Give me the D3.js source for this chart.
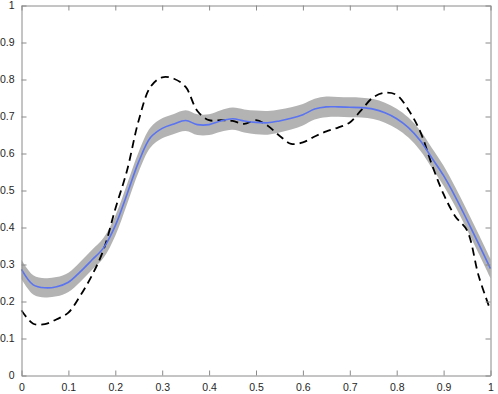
<!DOCTYPE html>
<html>
<head>
<meta charset="utf-8">
<script src="https://cdn.jsdelivr.net/npm/d3@7"></script>
<style>
  body { margin: 0; background: #fff; }
  svg { display: block; }
  .tick text { font-family: "Liberation Sans", Arial, sans-serif; font-size: 10.5px; fill: #262626; }
</style>
</head>
<body>
<svg></svg>
<script>
let xs = [0, 0.025, 0.05, 0.075, 0.1, 0.125, 0.15, 0.175, 0.2, 0.225, 0.25, 0.275, 0.3, 0.325, 0.35, 0.375, 0.4, 0.425, 0.45, 0.475, 0.5,
          0.525, 0.55, 0.575, 0.6, 0.625, 0.65, 0.675, 0.7, 0.725, 0.75, 0.775, 0.8, 0.825, 0.85, 0.875, 0.9, 0.925, 0.95, 0.975, 1];

let meanVals = [0.287, 0.245, 0.237, 0.240, 0.252, 0.280, 0.312, 0.345, 0.405, 0.490, 0.578, 0.643, 0.668, 0.680, 0.689, 0.678, 0.678, 0.688, 0.694, 0.688, 0.684,
                0.683, 0.688, 0.695, 0.705, 0.720, 0.726, 0.726, 0.725, 0.724, 0.720, 0.710, 0.694, 0.670, 0.635, 0.588, 0.540, 0.483, 0.420, 0.355, 0.289];

let bandHalf = [0.026, 0.026, 0.026, 0.026, 0.026, 0.027, 0.027, 0.027, 0.027, 0.027, 0.027, 0.027, 0.027, 0.027, 0.028, 0.028, 0.028, 0.029, 0.030, 0.031, 0.032,
                0.032, 0.031, 0.030, 0.029, 0.028, 0.028, 0.027, 0.027, 0.027, 0.027, 0.027, 0.027, 0.027, 0.027, 0.027, 0.027, 0.026, 0.026, 0.026, 0.026];

let refVals = [0.176, 0.140, 0.139, 0.152, 0.170, 0.215, 0.270, 0.340, 0.450, 0.554, 0.690, 0.780, 0.806, 0.802, 0.780, 0.715, 0.690, 0.690, 0.688, 0.680, 0.690,
               0.675, 0.648, 0.626, 0.630, 0.646, 0.660, 0.670, 0.684, 0.718, 0.752, 0.764, 0.758, 0.718, 0.660, 0.570, 0.490, 0.430, 0.392, 0.268, 0.176];

let tickVals = [0, 0.1, 0.2, 0.3, 0.4, 0.5, 0.6, 0.7, 0.8, 0.9, 1];

let width = 498;
let height = 394;
let padLeft = 21.5, padRight = 490.5, padTop = 5.5, padBottom = 375.5;

let svg = d3.select('svg').attr('width', width).attr('height', height);

let xScale = d3.scaleLinear().domain([0, 1]).range([padLeft, padRight]);
let yScale = d3.scaleLinear().domain([0, 1]).range([padBottom, padTop]);

let fmt = (d) => d3.format('~g')(d);

// shaded band
let band = d3.area()
    .x((d, i) => xScale(xs[i]))
    .y0((d, i) => yScale(meanVals[i] - bandHalf[i]))
    .y1((d, i) => yScale(meanVals[i] + bandHalf[i]))
    .curve(d3.curveCatmullRom);

svg.append('path')
   .datum(xs)
   .attr('d', band)
   .attr('fill', '#b3b3b3');

let line = d3.line()
    .x((d) => xScale(d[0]))
    .y((d) => yScale(d[1]))
    .curve(d3.curveCatmullRom);

svg.append('path')
   .datum(xs.map((x, i) => [x, refVals[i]]))
   .attr('d', line)
   .attr('fill', 'none')
   .attr('stroke', '#000')
   .attr('stroke-width', 1.8)
   .attr('stroke-dasharray', '8,5');

svg.append('path')
   .datum(xs.map((x, i) => [x, meanVals[i]]))
   .attr('d', line)
   .attr('fill', 'none')
   .attr('stroke', '#5a73f0')
   .attr('stroke-width', 1.6);

// axes box
let xAxis = d3.axisBottom(xScale).tickValues(tickVals).tickFormat(fmt).tickSizeInner(-5).tickSizeOuter(0).tickPadding(8);
let yAxis = d3.axisLeft(yScale).tickValues(tickVals).tickFormat(fmt).tickSizeInner(-5).tickSizeOuter(0).tickPadding(7);
let xTop = d3.axisTop(xScale).tickValues(tickVals).tickFormat('').tickSizeInner(-5).tickSizeOuter(0);
let yRight = d3.axisRight(yScale).tickValues(tickVals).tickFormat('').tickSizeInner(-5).tickSizeOuter(0);

svg.append('g').attr('transform', 'translate(0,' + padBottom + ')').call(xAxis);
svg.append('g').attr('transform', 'translate(' + padLeft + ',0)').call(yAxis);
svg.append('g').attr('transform', 'translate(0,' + padTop + ')').call(xTop);
svg.append('g').attr('transform', 'translate(' + padRight + ',0)').call(yRight);

svg.selectAll('.domain, .tick line').attr('stroke', '#8a8a8a');
</script>
</body>
</html>
